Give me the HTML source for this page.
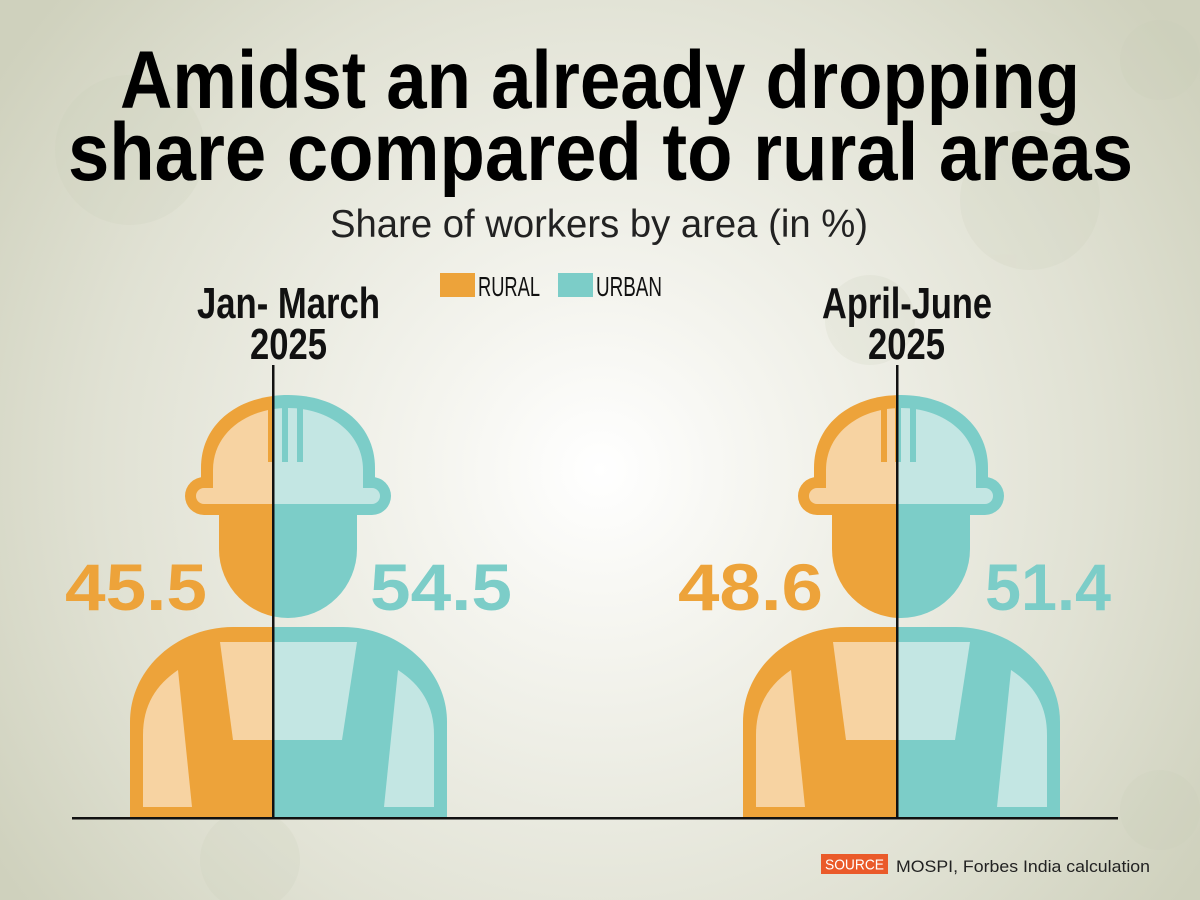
<!DOCTYPE html>
<html><head><meta charset="utf-8"><style>
html,body{margin:0;padding:0;width:1200px;height:900px;overflow:hidden}
svg{display:block}
.o{--d:#eda33a;--l:#f7d3a2}
.t{--d:#7ccdc8;--l:#c3e6e3}
.d{fill:var(--d)}.l{fill:var(--l)}
</style></head><body>
<svg width="1200" height="900" viewBox="0 0 1200 900" xmlns="http://www.w3.org/2000/svg">
<defs>
<radialGradient id="bg" cx="600" cy="470" r="720" gradientUnits="userSpaceOnUse">
<stop offset="0" stop-color="#ffffff"/><stop offset="0.25" stop-color="#f4f4ee"/><stop offset="0.7" stop-color="#e0e1d3"/><stop offset="1" stop-color="#cfd1bd"/>
</radialGradient>
<g id="fig">
<path class="d" d="M-87,480 L-87,468 C-87,422 -47,395 0,395 C47,395 87,422 87,468 L87,480 Z"/>
<rect class="d" x="-103" y="477" width="206" height="38" rx="19"/>
<path class="l" d="M-75,492 L-75,470 C-75,432 -40,408 0,408 C40,408 75,432 75,470 L75,492 Z"/>
<rect class="l" x="-92" y="488" width="184" height="16" rx="8"/>
<rect class="d" x="-20" y="408" width="6" height="54"/>
<rect class="d" x="-6" y="408" width="6" height="54"/>
<rect class="d" x="9" y="408" width="6" height="54"/>
<path class="d" d="M-69,515 L69,515 L69,549 A69,69 0 0 1 -69,549 Z"/>
<path class="d" d="M-158,817 L-158,722 C-158,668 -110,627 -55,627 L55,627 C110,627 159,668 159,722 L159,817 Z"/>
<path class="l" d="M-145,807 L-145,735 C-145,705 -132,685 -110,670 L-96,807 Z"/>
<path class="l" d="M146,807 L146,735 C146,705 133,685 110,670 L96,807 Z"/>
<path class="l" d="M-68,642 L69,642 L54,740 L-55,740 Z"/>
</g>
<clipPath id="c1l"><rect x="0" y="300" width="273" height="600"/></clipPath>
<clipPath id="c1r"><rect x="273" y="300" width="400" height="600"/></clipPath>
<clipPath id="c2l"><rect x="600" y="300" width="297" height="600"/></clipPath>
<clipPath id="c2r"><rect x="897" y="300" width="303" height="600"/></clipPath>
</defs>
<rect width="1200" height="900" fill="url(#bg)"/>
<g fill="#c9cbb6" opacity="0.18">
<circle cx="130" cy="150" r="75"/><circle cx="1030" cy="200" r="70"/><circle cx="1160" cy="60" r="40"/><circle cx="250" cy="860" r="50"/><circle cx="1160" cy="810" r="40"/><circle cx="870" cy="320" r="45"/>
</g>

<text x="120" y="108" font-family="Liberation Sans, sans-serif" font-weight="bold" font-size="82" textLength="960" lengthAdjust="spacingAndGlyphs" fill="#000">Amidst an already dropping</text>
<text x="68" y="180" font-family="Liberation Sans, sans-serif" font-weight="bold" font-size="82" textLength="1065" lengthAdjust="spacingAndGlyphs" fill="#000">share compared to rural areas</text>
<text x="330" y="237" font-family="Liberation Sans, sans-serif" font-size="39" textLength="538" lengthAdjust="spacingAndGlyphs" fill="#222">Share of workers by area (in %)</text>

<rect x="440" y="273" width="35" height="24" fill="#eda33a"/>
<text x="478" y="296" font-family="Liberation Sans Narrow, Liberation Sans, sans-serif" font-size="28" textLength="62" lengthAdjust="spacingAndGlyphs" fill="#111">RURAL</text>
<rect x="558" y="273" width="35" height="24" fill="#7ccdc8"/>
<text x="596" y="296" font-family="Liberation Sans Narrow, Liberation Sans, sans-serif" font-size="28" textLength="66" lengthAdjust="spacingAndGlyphs" fill="#111">URBAN</text>

<g font-family="Liberation Sans Narrow, Liberation Sans, sans-serif" font-weight="bold" font-size="44" fill="#111">
<text x="197" y="318" textLength="183" lengthAdjust="spacingAndGlyphs">Jan- March</text>
<text x="250" y="359" textLength="77" lengthAdjust="spacingAndGlyphs">2025</text>
<text x="822" y="318" textLength="170" lengthAdjust="spacingAndGlyphs">April-June</text>
<text x="868" y="359" textLength="77" lengthAdjust="spacingAndGlyphs">2025</text>
</g>

<g clip-path="url(#c1l)"><use href="#fig" x="288" class="o"/></g>
<g clip-path="url(#c1r)"><use href="#fig" x="288" class="t"/></g>
<g clip-path="url(#c2l)"><use href="#fig" x="901" class="o"/></g>
<g clip-path="url(#c2r)"><use href="#fig" x="901" class="t"/></g>

<rect x="272" y="365" width="2.5" height="453" fill="#111"/>
<rect x="896" y="365" width="2.5" height="453" fill="#111"/>
<rect x="72" y="817" width="1046" height="2.5" fill="#111"/>

<g font-family="Liberation Sans Narrow, Liberation Sans, sans-serif" font-weight="bold" font-size="66">
<text x="65" y="610" textLength="142" lengthAdjust="spacingAndGlyphs" fill="#eda33a">45.5</text>
<text x="370" y="610" textLength="142" lengthAdjust="spacingAndGlyphs" fill="#7ccdc8">54.5</text>
<text x="678" y="610" textLength="145" lengthAdjust="spacingAndGlyphs" fill="#eda33a">48.6</text>
<text x="985" y="610" textLength="126" lengthAdjust="spacingAndGlyphs" fill="#7ccdc8">51.4</text>
</g>

<rect x="821" y="854" width="67" height="20" fill="#ea5a2a"/>
<text x="825" y="869.5" font-family="Liberation Sans, sans-serif" font-size="15" textLength="59" lengthAdjust="spacingAndGlyphs" fill="#fff">SOURCE</text>
<text x="896" y="872" font-family="Liberation Sans, sans-serif" font-size="17" textLength="254" lengthAdjust="spacingAndGlyphs" fill="#222">MOSPI, Forbes India calculation</text>
</svg>
</body></html>
